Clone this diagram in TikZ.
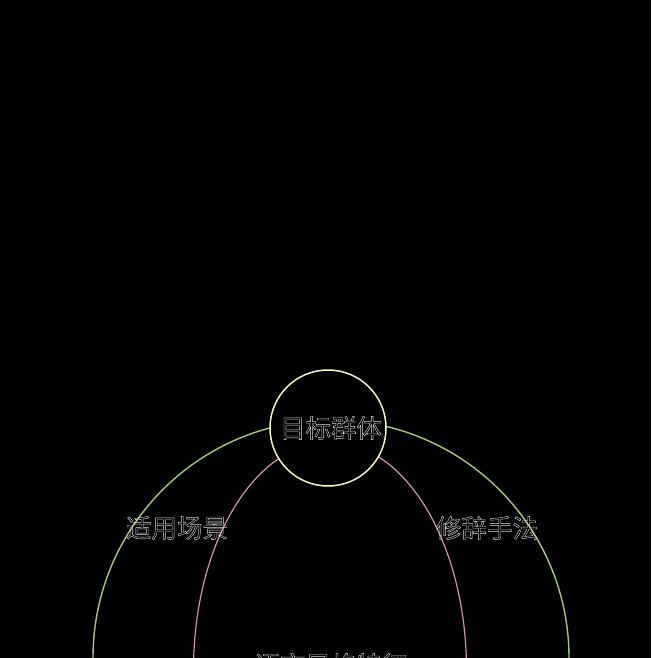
\documentclass[tikz,border=0pt]{standalone}
\usepackage{fontspec}
\newfontfamily\cjk{Noto Sans CJK SC}
\newcommand{\outlinetext}[1]{\special{pdf:literal 1 Tr 0.4 w}#1\special{pdf:literal 0 Tr}}
\definecolor{bgc}{RGB}{0,0,0}
\definecolor{greenarc}{RGB}{165,200,125}
\definecolor{pinkarc}{RGB}{205,150,170}
\definecolor{yellowc}{RGB}{245,245,190}
\definecolor{txtc}{RGB}{225,225,225}
\tikzset{
  hub/.style={circle, draw=yellowc, line width=1.5pt, fill=bgc, minimum size=116pt, inner sep=0pt},
  lbl/.style={font=\cjk\fontsize{25.5pt}{25.5pt}\selectfont, text=txtc, inner sep=0pt},
  greenline/.style={draw=greenarc, line width=1.4pt},
  pinkline/.style={draw=pinkarc, line width=1.2pt}
}
\begin{document}
\begin{tikzpicture}[x=1pt,y=-1pt]
\useasboundingbox (0,0) rectangle (651,658);
\clip (0,0) rectangle (651,658);
\fill[bgc] (0,0) rectangle (651,658);
\coordinate (gc) at (331,658);
\coordinate (pc) at (330,670);
\draw[greenline] (gc) circle [radius=238];
\draw[pinkline] (pc) ellipse [x radius=136.5, y radius=228];
\node[hub] (c) at (328,428) {};
\node[lbl] (ct) at (331,428) {\outlinetext{目标群体}};
\node[lbl] (l) at (177,528) {\outlinetext{适用场景}};
\node[lbl] (r) at (487,528) {\outlinetext{修辞手法}};
\node[lbl] (b) at (331,665) {\outlinetext{语言风格特征}};
\end{tikzpicture}
\end{document}
